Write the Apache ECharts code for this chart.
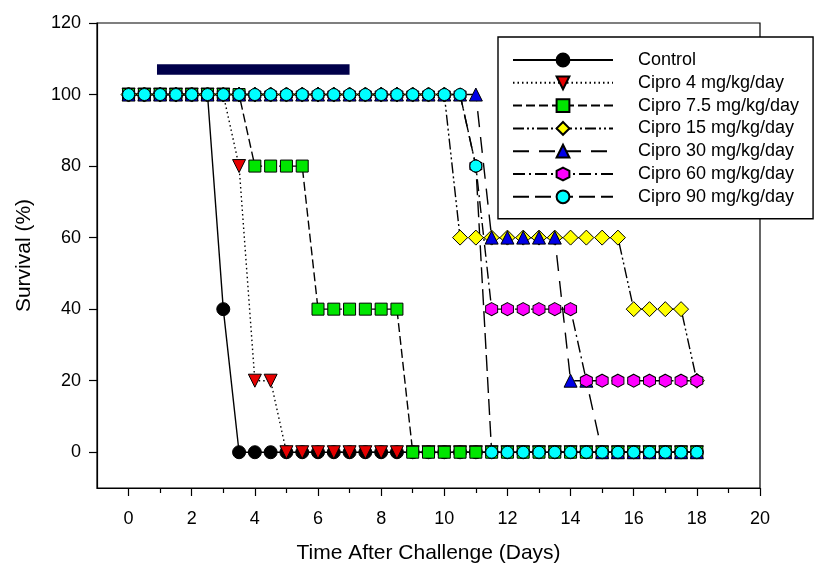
<!DOCTYPE html>
<html>
<head>
<meta charset="utf-8">
<script src="https://cdn.jsdelivr.net/npm/echarts@6/dist/echarts.min.js"></script>
<style>
  html, body { margin: 0; padding: 0; background: #fff; }
  #chart { width: 817px; height: 564px; }
</style>
</head>
<body>
<div id="chart"></div>
<script>
// Observation days after challenge
const days = [0, 0.5, 1, 1.5, 2, 2.5, 3, 3.5, 4, 4.5,
              5, 5.5, 6, 6.5, 7, 7.5, 8, 8.5, 9, 9.5,
              10, 10.5, 11, 11.5, 12, 12.5, 13, 13.5, 14, 14.5,
              15, 15.5, 16, 16.5, 17, 17.5, 18];

// Percent survival per group, one value per observation day
const control = [100, 100, 100, 100, 100, 100, 40, 0, 0, 0,
                 0, 0, 0, 0, 0, 0, 0, 0, 0, 0,
                 0, 0, 0, 0, 0, 0, 0, 0, 0, 0,
                 0, 0, 0, 0, 0, 0, 0];
const cipro4 = [100, 100, 100, 100, 100, 100, 100, 80, 20, 20,
                0, 0, 0, 0, 0, 0, 0, 0, 0, 0,
                0, 0, 0, 0, 0, 0, 0, 0, 0, 0,
                0, 0, 0, 0, 0, 0, 0];
const cipro7_5 = [100, 100, 100, 100, 100, 100, 100, 100, 80, 80,
                  80, 80, 40, 40, 40, 40, 40, 40, 0, 0,
                  0, 0, 0, 0, 0, 0, 0, 0, 0, 0,
                  0, 0, 0, 0, 0, 0, 0];
const cipro15 = [100, 100, 100, 100, 100, 100, 100, 100, 100, 100,
                 100, 100, 100, 100, 100, 100, 100, 100, 100, 100,
                 100, 60, 60, 60, 60, 60, 60, 60, 60, 60,
                 60, 60, 40, 40, 40, 40, 20];
const cipro30 = [100, 100, 100, 100, 100, 100, 100, 100, 100, 100,
                 100, 100, 100, 100, 100, 100, 100, 100, 100, 100,
                 100, 100, 100, 60, 60, 60, 60, 60, 20, 20,
                 0, 0, 0, 0, 0, 0, 0];
const cipro60 = [100, 100, 100, 100, 100, 100, 100, 100, 100, 100,
                 100, 100, 100, 100, 100, 100, 100, 100, 100, 100,
                 100, 100, 80, 40, 40, 40, 40, 40, 40, 20,
                 20, 20, 20, 20, 20, 20, 20];
const cipro90 = [100, 100, 100, 100, 100, 100, 100, 100, 100, 100,
                 100, 100, 100, 100, 100, 100, 100, 100, 100, 100,
                 100, 100, 80, 0, 0, 0, 0, 0, 0, 0,
                 0, 0, 0, 0, 0, 0, 0];

const groupNames = ['Control', 'Cipro 4 mg/kg/day', 'Cipro 7.5 mg/kg/day', 'Cipro 15 mg/kg/day',
                    'Cipro 30 mg/kg/day', 'Cipro 60 mg/kg/day', 'Cipro 90 mg/kg/day'];

// Dosing period (days) shown as a bar above the curves
const dosingStart = 0.9;
const dosingEnd = 7;
const dosingLevel = 107;

const xTickLabels = [0, 2, 4, 6, 8, 10, 12, 14, 16, 18, 20];
const xMinorTicks = [1, 3, 5, 7, 9, 11, 13, 15, 17, 19];
const yTickLabels = [0, 20, 40, 60, 80, 100, 120];

const FONT = 'Liberation Sans, Arial, Helvetica, sans-serif';
const hexagon = 'path://M0,-10 L8.66,-5 L8.66,5 L0,10 L-8.66,5 L-8.66,-5 Z';

const styles = [
  { data: control,  symbol: 'circle',   size: 13, color: '#000000', dash: 'solid' },
  { data: cipro4,   symbol: 'triangle', size: 13, color: '#e60000', dash: [1.5, 3], rotate: 180 },
  { data: cipro7_5, symbol: 'rect',     size: 12, color: '#00e600', dash: [9, 4] },
  { data: cipro15,  symbol: 'diamond',  size: 15, color: '#ffff00', dash: [11, 3, 2, 3, 2, 3] },
  { data: cipro30,  symbol: 'triangle', size: 13, color: '#0000e6', dash: [16, 10] },
  { data: cipro60,  symbol: hexagon,    size: [12, 13], color: '#ff00ff', dash: [12, 4, 2, 4] },
  { data: cipro90,  symbol: 'circle',   size: 12, color: '#00ffff', dash: [16, 6] }
];

const series = styles.map((s, k) => ({
  name: groupNames[k],
  type: 'line',
  data: days.map((d, i) => [d, s.data[i]]),
  symbol: s.symbol,
  symbolSize: s.size,
  symbolRotate: s.rotate || 0,
  showAllSymbol: true,
  lineStyle: { color: '#000', width: 1.4, type: s.dash },
  itemStyle: { color: s.color, borderColor: '#000', borderWidth: 1 },
  emphasis: { disabled: true },
  animation: false,
  z: 2
}));

series.push({
  name: 'dosing',
  type: 'line',
  data: [[dosingStart, dosingLevel], [dosingEnd, dosingLevel]],
  symbol: 'none',
  lineStyle: { color: '#00004a', width: 10.5, cap: 'butt' },
  silent: true,
  animation: false,
  z: 1
});

const chart = echarts.init(document.getElementById('chart'), null, { renderer: 'canvas' });
chart.setOption({
  backgroundColor: '#ffffff',
  animation: false,
  textStyle: { fontFamily: FONT },
  grid: {
    left: 97, right: 57, top: 23, bottom: 76,
    outerBoundsMode: 'none', containLabel: false,
    show: true, borderColor: '#000', borderWidth: 1.2, backgroundColor: 'transparent'
  },
  xAxis: [
    {
      type: 'value', min: -1, max: 20, position: 'bottom',
      name: 'Time After Challenge (Days)', nameLocation: 'middle', nameGap: 55,
      nameTextStyle: { fontSize: 21, color: '#000', fontFamily: FONT },
      axisLine: { show: true, onZero: false, lineStyle: { color: '#000', width: 1.2 } },
      axisTick: { show: true, customValues: xTickLabels, length: 8, lineStyle: { color: '#000', width: 1.2 } },
      axisLabel: { customValues: xTickLabels, fontSize: 18, color: '#000', margin: 22, fontFamily: FONT },
      splitLine: { show: false }
    },
    {
      type: 'value', min: -1, max: 20, position: 'bottom', gridIndex: 0,
      axisLine: { show: false, onZero: false },
      axisTick: { show: true, customValues: xMinorTicks, length: 5, lineStyle: { color: '#000', width: 1.2 } },
      axisLabel: { show: false },
      splitLine: { show: false }
    }
  ],
  yAxis: {
    type: 'value', min: -10, max: 120,
    name: 'Survival (%)', nameLocation: 'middle', nameGap: 62,
    nameTextStyle: { fontSize: 21, color: '#000', fontFamily: FONT },
    axisLine: { show: true, onZero: false, lineStyle: { color: '#000', width: 1.2 } },
    axisTick: { show: true, customValues: yTickLabels, length: 8, lineStyle: { color: '#000', width: 1.2 } },
    axisLabel: { customValues: yTickLabels, fontSize: 18, color: '#000', margin: 16, fontFamily: FONT },
    splitLine: { show: false }
  },
  legend: {
    data: groupNames,
    orient: 'vertical',
    left: 498, top: 37,
    padding: [14, 14, 13, 14],
    itemWidth: 100, itemHeight: 16, itemGap: 4.8,
    backgroundColor: '#fff',
    borderColor: '#000', borderWidth: 1.4,
    selectedMode: false,
    textStyle: { fontSize: 18, color: '#000', fontFamily: FONT, padding: [0, 0, 0, 20] }
  },
  series: series
});
</script>
</body>
</html>
